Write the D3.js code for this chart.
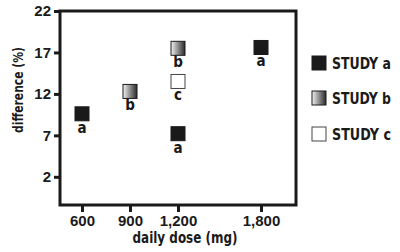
<!DOCTYPE html>
<html lang="en">
<head>
  <meta charset="UTF-8" />
  <title>Difference by daily dose</title>
  <script src="https://d3js.org/d3.v7.min.js"></script>
  <style>
    body {
      margin: 0;
      background: #fff;
    }
    svg {
      display: block;
      font-family: "Liberation Sans Narrow", "DejaVu Sans Condensed", sans-serif;
      font-weight: bold;
      fill: #1a1a1a;
    }
  </style>
</head>
<body>
  <svg id="chart" width="400" height="252"></svg>

  <script>
    // data
    const doses = [600, 900, 1200, 1200, 1200, 1800];
    const diffs = [9.6, 12.3, 17.5, 13.5, 7.2, 17.6];
    const studies = ["a", "b", "b", "c", "a", "a"];
    const studyNames = ["a", "b", "c"];
    const xTicks = [600, 900, 1200, 1800];
    const yTicks = [2, 7, 12, 17, 22];

    const svg = d3.select("#chart");
    const ink = "#1a1a1a";

    const box = { left: 60, top: 11, right: 296, bottom: 205 };

    // the dose axis is not evenly spaced in the original, so use a piecewise scale
    const x = d3.scaleLinear()
      .domain([600, 1200, 1800])
      .range([82, 178, 261]);

    const y = d3.scaleLinear()
      .domain([-1.4, 22])
      .range([box.bottom, box.top]);

    const defs = svg.append("defs");
    const grad = defs.append("linearGradient")
      .attr("id", "gradB")
      .attr("x1", "0%").attr("x2", "100%")
      .attr("y1", "0%").attr("y2", "0%");
    grad.append("stop").attr("offset", "0%").attr("stop-color", "#f2f2f2");
    grad.append("stop").attr("offset", "100%").attr("stop-color", "#2a2a2a");

    const fillFor = s => s === "a" ? ink : s === "b" ? "url(#gradB)" : "#fff";
    const strokeFor = s => s === "c" ? "#444" : ink;

    // frame
    svg.append("rect")
      .attr("x", box.left)
      .attr("y", box.top)
      .attr("width", box.right - box.left)
      .attr("height", box.bottom - box.top)
      .attr("fill", "none")
      .attr("stroke", ink)
      .attr("stroke-width", 3);

    // y axis
    const yAxis = svg.append("g")
      .attr("transform", `translate(${box.left},0)`)
      .call(d3.axisLeft(y).tickValues(yTicks).tickSize(6).tickPadding(3));
    yAxis.select(".domain").remove();
    yAxis.selectAll("line").attr("stroke", ink).attr("stroke-width", 3);
    yAxis.selectAll("text")
      .attr("fill", ink)
      .style("font-size", "15px")
      .style("font-family", "inherit");

    // x axis
    const xAxis = svg.append("g")
      .attr("transform", `translate(0,${box.bottom})`)
      .call(d3.axisBottom(x).tickValues(xTicks).tickFormat(d3.format(",")).tickSize(7).tickPadding(3));
    xAxis.select(".domain").remove();
    xAxis.selectAll("line").attr("stroke", ink).attr("stroke-width", 3);
    xAxis.selectAll("text")
      .attr("fill", ink)
      .style("font-size", "15px")
      .style("font-family", "inherit");

    // axis titles (squeezed to match the condensed face of the original)
    svg.append("text")
      .attr("x", 185)
      .attr("y", 243)
      .attr("text-anchor", "middle")
      .attr("textLength", 105)
      .attr("lengthAdjust", "spacingAndGlyphs")
      .style("font-size", "15px")
      .text("daily dose (mg)");

    svg.append("text")
      .attr("transform", "translate(23,90) rotate(-90)")
      .attr("text-anchor", "middle")
      .attr("textLength", 86)
      .attr("lengthAdjust", "spacingAndGlyphs")
      .style("font-size", "14px")
      .text("difference (%)");

    // points
    const pts = doses.map((d, i) => ({ dose: d, diff: diffs[i], study: studies[i] }));
    const size = 14;

    svg.append("g")
      .selectAll("rect")
      .data(pts)
      .join("rect")
      .attr("x", d => x(d.dose) - size / 2)
      .attr("y", d => y(d.diff) - size / 2)
      .attr("width", size)
      .attr("height", size)
      .attr("fill", d => fillFor(d.study))
      .attr("stroke", d => strokeFor(d.study))
      .attr("stroke-width", 1);

    svg.append("g")
      .selectAll("text")
      .data(pts)
      .join("text")
      .attr("x", d => x(d.dose))
      .attr("y", d => y(d.diff) + size / 2 + 12)
      .attr("text-anchor", "middle")
      .style("font-size", "15px")
      .text(d => d.study);

    // legend
    const legend = svg.append("g")
      .selectAll("g")
      .data(studyNames)
      .join("g")
      .attr("transform", (d, i) => `translate(312,${[56, 91, 127][i]})`);

    legend.append("rect")
      .attr("width", size)
      .attr("height", size)
      .attr("fill", d => fillFor(d))
      .attr("stroke", d => strokeFor(d))
      .attr("stroke-width", 1);

    legend.append("text")
      .attr("x", 20)
      .attr("y", 13)
      .attr("textLength", 59)
      .attr("lengthAdjust", "spacingAndGlyphs")
      .style("font-size", "15px")
      .text(d => `STUDY ${d}`);
  </script>
</body>
</html>
